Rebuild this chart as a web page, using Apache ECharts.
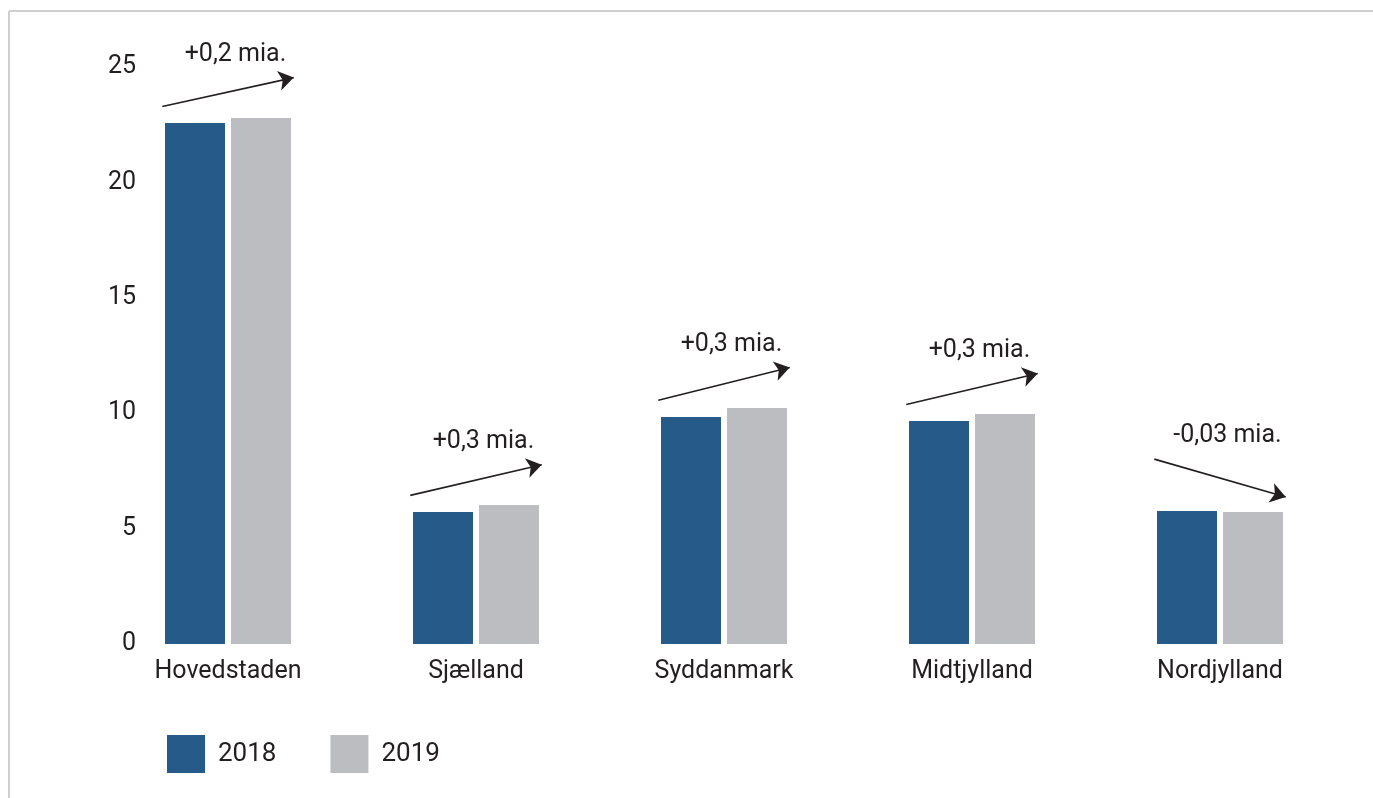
<!DOCTYPE html>
<html>
<head>
<meta charset="utf-8">
<script src="https://cdn.jsdelivr.net/npm/echarts@6/dist/echarts.min.js"></script>
<style>
html,body{margin:0;padding:0;background:#fff;}
#c{width:1373px;height:798px;}
</style>
</head>
<body>
<div id="c"></div>
<script>
const categories = ['Hovedstaden', 'Sjælland', 'Syddanmark', 'Midtjylland', 'Nordjylland'];
const values2018 = [22.57, 5.72, 9.84, 9.66, 5.76];
const values2019 = [22.79, 6.02, 10.23, 9.97, 5.72];
const changeLabels = ['+0,2 mia.', '+0,3 mia.', '+0,3 mia.', '+0,3 mia.', '-0,03 mia.'];
const yTicks = [0, 5, 10, 15, 20, 25];

const FONT = 'Roboto';
const TXT = '#231f20';
const BLUE = '#265a88';
const GRAY = '#bcbdc0';

// arrows from the 2018 bar to the 2019 bar, placed above the bars in data units
const arrowData = [];
const textData = [];
categories.forEach((c, i) => {
  const up = values2019[i] >= values2018[i];
  const y1 = up ? values2018[i] + 0.72 : values2018[i] + 2.25;
  const y2 = up ? values2019[i] + 1.75 : values2019[i] + 0.65;
  arrowData.push({ coords: [[i - 0.265, y1], [i + 0.265, y2]] });
  textData.push({ value: [i + 0.03, Math.max(y1, y2) + 1.0], name: changeLabels[i] });
});

const chart = echarts.init(document.getElementById('c'));
chart.setOption({
  animation: false,
  backgroundColor: '#fff',
  textStyle: { fontFamily: FONT, color: TXT },
  graphic: [
    { type: 'line', shape: { x1: 9, y1: 11, x2: 1373, y2: 11 }, style: { stroke: '#cfcfcf', lineWidth: 2 } },
    { type: 'line', shape: { x1: 9, y1: 11, x2: 9, y2: 798 }, style: { stroke: '#cfcfcf', lineWidth: 2 } }
  ],
  grid: { left: 104, right: 29, top: 67, bottom: 154 },
  legend: {
    data: ['2018', '2019'],
    left: 167, top: 735, padding: 0,
    icon: 'rect',
    itemWidth: 38, itemHeight: 38, itemGap: 54,
    textStyle: { fontFamily: FONT, fontSize: 26, color: TXT, padding: [0, 0, 0, 8] }
  },
  xAxis: [
    {
      type: 'category', data: categories,
      axisLine: { show: false }, axisTick: { show: false },
      axisLabel: { fontFamily: FONT, fontSize: 25, color: TXT, margin: 15 }
    },
    { type: 'value', min: -0.5, max: 4.5, show: false }
  ],
  yAxis: {
    type: 'value', min: yTicks[0], max: yTicks[yTicks.length - 1], interval: 5,
    offset: -40,
    axisLine: { show: false }, axisTick: { show: false }, splitLine: { show: false },
    axisLabel: { fontFamily: FONT, fontSize: 25, color: TXT, margin: 8 }
  },
  series: [
    { name: '2018', type: 'bar', data: values2018, barWidth: 60, barGap: '10%', itemStyle: { color: BLUE } },
    { name: '2019', type: 'bar', data: values2019, barWidth: 60, barGap: '10%', itemStyle: { color: GRAY } },
    {
      type: 'lines', coordinateSystem: 'cartesian2d', xAxisIndex: 1, yAxisIndex: 0,
      clip: false, silent: true,
      symbol: ['none', 'arrow'], symbolSize: [0, 15],
      lineStyle: { color: TXT, width: 1.6, opacity: 1, curveness: 0 },
      data: arrowData
    },
    {
      type: 'scatter', xAxisIndex: 1, yAxisIndex: 0, clip: false, silent: true,
      symbolSize: 0, itemStyle: { opacity: 1, color: TXT },
      label: {
        show: true, position: 'inside', formatter: p => p.name,
        fontFamily: FONT, fontSize: 25, color: TXT, textBorderWidth: 0
      },
      data: textData
    }
  ]
});
</script>
</body>
</html>
